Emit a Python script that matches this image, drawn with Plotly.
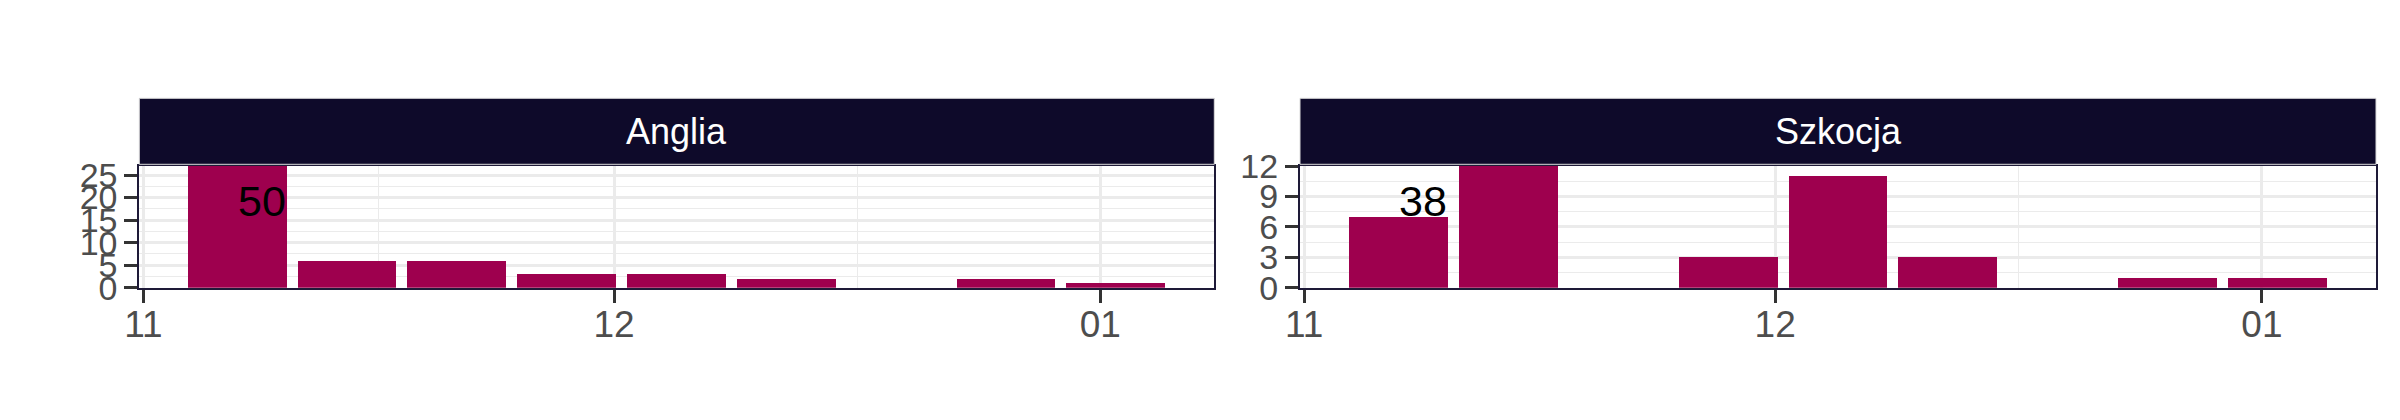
import pandas as pd
import plotly.graph_objects as go

# ---- data ----
week_centers = ["2014-11-07", "2014-11-14", "2014-11-21", "2014-11-28", "2014-12-05",
                "2014-12-12", "2014-12-19", "2014-12-26", "2015-01-02"]
regions = ["Anglia", "Szkocja"]
anglia_counts = [27, 6, 6, 3, 3, 2, 0, 2, 1]
szkocja_counts = [7, 12, 0, 3, 11, 3, 0, 1, 1]
y_ticks_anglia = [0, 5, 10, 15, 20, 25]
y_ticks_szkocja = [0, 3, 6, 9, 12]
x_tick_dates = ["2014-11-01", "2014-12-01", "2015-01-01"]
x_tick_labels = ["11", "12", "01"]
x_minor_dates = ["2014-11-16 00:00", "2014-12-16 12:00"]

series = {"Anglia": anglia_counts, "Szkocja": szkocja_counts}
yticks = {"Anglia": y_ticks_anglia, "Szkocja": y_ticks_szkocja}

BAR = "#9E004E"
STRIP = "#0E0A2A"
BORDER = "#1E1A38"
GRID = "#EBEBEB"
FONT = "Liberation Sans, Arial, sans-serif"

W, H = 2400, 420
centers = pd.to_datetime(week_centers)
bin_days = 7
bar_w_days = 0.9 * bin_days
xmin = centers.min() - pd.Timedelta(days=bar_w_days / 2)
xmax = centers.max() + pd.Timedelta(days=bar_w_days / 2)
span = xmax - xmin
xr = [(xmin - 0.05 * span), (xmax + 0.05 * span)]
xr = [d.strftime("%Y-%m-%d %H:%M:%S") for d in xr]

# pixel layout
panel_px = {"Anglia": (139.3, 1214.3), "Szkocja": (1300.0, 2376.0)}
top_px, bot_px = 166.0, 287.7
ydom = [(H - bot_px) / H, (H - top_px) / H]
ph = bot_px - top_px

fig = go.Figure()
for i, reg in enumerate(regions):
    ax = "" if i == 0 else str(i + 1)
    vals = series[reg]
    fig.add_trace(go.Bar(
        x=centers, y=vals, width=bar_w_days * 86400000,
        marker=dict(color=BAR, line=dict(width=0)),
        xaxis="x" + ax, yaxis="y" + ax, showlegend=False, hoverinfo="x+y",
    ))
    x0, x1 = panel_px[reg]
    common_axis = dict(
        showline=True, mirror=True, linecolor=BORDER, linewidth=2,
        ticks="outside", ticklen=13, tickwidth=3, tickcolor="#333333",
        showgrid=True, gridcolor=GRID, gridwidth=2.7, zeroline=False,
        automargin=False,
    )
    fig.update_layout(**{
        "xaxis" + ax: dict(
            common_axis, domain=[x0 / W, x1 / W], type="date", range=xr,
            tickvals=x_tick_dates, ticktext=x_tick_labels,
            tickfont=dict(family=FONT, size=37, color="#4D4D4D"),
            ticklabelstandoff=-10,
            anchor="y" + ax,
            minor=dict(tickvals=x_minor_dates, showgrid=True, gridcolor=GRID,
                       gridwidth=1.4, ticks=""),
        ),
        "yaxis" + ax: dict(
            common_axis, domain=ydom, range=[0, max(vals)],
            tickvals=yticks[reg], anchor="x" + ax,
            tickfont=dict(family=FONT, size=34, color="#4D4D4D"),
            minor=dict(dtick=(yticks[reg][1] - yticks[reg][0]) / 2, showgrid=True,
                       gridcolor=GRID, gridwidth=1.4, ticks=""),
        ),
    })
    # strip
    fig.add_shape(type="rect", xref="x" + ax + " domain", yref="y" + ax + " domain",
                  x0=0.0, x1=1.0, y0=(bot_px - 164.3) / ph, y1=(bot_px - 98.3) / ph,
                  fillcolor=STRIP, line=dict(color="#DADADA", width=1), layer="above")
    fig.add_annotation(xref="x" + ax + " domain", yref="y" + ax + " domain",
                       x=0.5, y=(bot_px - 131.3) / ph, text=reg, showarrow=False,
                       font=dict(family=FONT, size=36, color="white"),
                       xanchor="center", yanchor="middle")
    # total label
    total = sum(vals)
    lx = (centers[0] + pd.Timedelta(days=bar_w_days / 2)).strftime("%Y-%m-%d %H:%M:%S")
    fig.add_annotation(xref="x" + ax, yref="y" + ax + " domain",
                       x=lx, y=0.51, text=str(total), showarrow=False,
                       font=dict(family=FONT, size=43, color="black"),
                       xanchor="right", yanchor="bottom", borderpad=0)

fig.update_layout(
    width=W, height=H, margin=dict(l=0, r=0, t=0, b=0),
    plot_bgcolor="white", paper_bgcolor="white", bargap=0,
    font=dict(family=FONT),
)
fig.write_html("out.html",
               config={"displayModeBar": False},
               post_script="document.body.style.margin='0px';document.body.style.overflow='hidden';")
